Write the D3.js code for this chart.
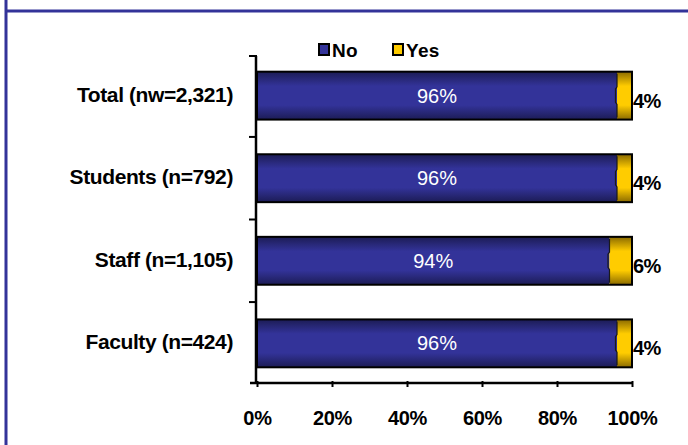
<!DOCTYPE html>
<html><head><meta charset="utf-8">
<script src="https://cdn.jsdelivr.net/npm/d3@7"></script>
<style>body{margin:0;background:#fff}svg{display:block}</style>
</head><body>
<svg id="c" width="688" height="445"></svg>
<script>
const categories = ["Total (nw=2,321)", "Students (n=792)", "Staff (n=1,105)", "Faculty (n=424)"];
const noValues = [96, 96, 94, 96];
const yesValues = [4, 4, 6, 4];
const seriesNames = ["No", "Yes"];
const xTicks = [0, 20, 40, 60, 80, 100];

const svg = d3.select("#c");
const font = "'Liberation Sans', Arial, sans-serif";

// frame lines
svg.append("line").attr("x1",6).attr("x2",6).attr("y1",0).attr("y2",445).attr("stroke","#333399").attr("stroke-width",3);
svg.append("line").attr("x1",6).attr("x2",688).attr("y1",11).attr("y2",11).attr("stroke","#333399").attr("stroke-width",3);

const x = d3.scaleLinear().domain([0,100]).range([257,632]);
const y = d3.scaleBand().domain(categories).range([56,383]).paddingInner(0.42).paddingOuter(0.19);

const defs = svg.append("defs");
function grad(id, edge, mid){
  const g = defs.append("linearGradient").attr("id",id).attr("x1",0).attr("x2",0).attr("y1",0).attr("y2",1);
  g.append("stop").attr("offset","0%").attr("stop-color",edge);
  g.append("stop").attr("offset","30%").attr("stop-color",mid);
  g.append("stop").attr("offset","70%").attr("stop-color",mid);
  g.append("stop").attr("offset","100%").attr("stop-color",edge);
}
grad("gNo","#1c1c55","#333399");
grad("gYes","#8a6a00","#ffcc00");

const data = categories.map((c,i)=>({c, no:noValues[i], yes:yesValues[i]}));

const g = svg.append("g");
g.selectAll("rect.no").data(data).join("rect")
  .attr("x",x(0)).attr("y",d=>y(d.c)).attr("width",d=>x(d.no)-x(0)).attr("height",y.bandwidth())
  .attr("fill","url(#gNo)");
g.selectAll("rect.yes").data(data).join("rect")
  .attr("x",d=>x(d.no)).attr("y",d=>y(d.c)).attr("width",d=>x(d.no+d.yes)-x(d.no)).attr("height",y.bandwidth())
  .attr("fill","url(#gYes)");
g.selectAll("path.sep").data(data).join("path")
  .attr("d",d=>{const x0=x(d.no), y0=y(d.c)+2, h=y.bandwidth()-4;
    return `M${x0},${y0}L${x0},${y0+h*0.3}L${x0-1.5},${y0+h*0.35}L${x0-1.5},${y0+h*0.65}L${x0},${y0+h*0.7}L${x0},${y0+h}`;})
  .attr("fill","none").attr("stroke","#1a1a1a").attr("stroke-width",1.2);
g.selectAll("rect.out").data(data).join("rect")
  .attr("x",x(0)).attr("y",d=>y(d.c)).attr("width",d=>x(d.no+d.yes)-x(0)).attr("height",y.bandwidth())
  .attr("fill","none").attr("stroke","#000").attr("stroke-width",2);

g.selectAll("text.nol").data(data).join("text")
  .attr("x",d=>(x(0)+x(d.no))/2).attr("y",d=>y(d.c)+y.bandwidth()/2+7)
  .attr("text-anchor","middle").attr("fill","#fff").attr("font-family",font).attr("font-size",20)
  .text(d=>d.no+"%");
g.selectAll("text.yesl").data(data).join("text")
  .attr("x",d=>x(d.no+d.yes)+1).attr("y",d=>y(d.c)+y.bandwidth()/2+12)
  .attr("fill","#000").attr("font-family",font).attr("font-weight","bold").attr("font-size",20).attr("letter-spacing","-0.5")
  .text(d=>d.yes+"%");

// y axis
svg.append("line").attr("x1",256).attr("x2",256).attr("y1",56).attr("y2",383).attr("stroke","#000").attr("stroke-width",2.5);
const bounds = [56].concat(categories.slice(0,3).map(c=>y(c)+y.bandwidth()+y.step()*0.21));
svg.selectAll("line.yt").data(bounds).join("line")
  .attr("x1",249).attr("x2",257).attr("y1",d=>d).attr("y2",d=>d).attr("stroke","#000").attr("stroke-width",2);

svg.selectAll("text.cat").data(categories).join("text")
  .attr("x",233).attr("y",c=>y(c)+y.bandwidth()/2+6)
  .attr("text-anchor","end").attr("font-family",font).attr("font-weight","bold").attr("font-size",21).attr("letter-spacing","-0.4")
  .text(c=>c);

// x axis
const xAxis = d3.axisBottom(x).tickValues(xTicks).tickSize(6).tickFormat(d=>d+"%");
const xa = svg.append("g").attr("transform","translate(0,383)").call(xAxis);
xa.select(".domain").attr("stroke","#000").attr("stroke-width",2.5).attr("d","M250,0H632");
xa.selectAll(".tick line").attr("y1",-2).attr("y2",4).attr("stroke","#000").attr("stroke-width",2);
xa.selectAll(".tick text").attr("y",42).attr("dy",null).attr("font-family",font).attr("font-weight","bold").attr("font-size",20).attr("letter-spacing","-0.3").attr("fill","#000");

// legend
const leg = svg.append("g");
const legX = [319, 393];
const legC = ["#333399","#ffcc00"];
seriesNames.forEach((s,i)=>{
  leg.append("rect").attr("x",legX[i]).attr("y",44).attr("width",10).attr("height",11).attr("fill",legC[i]).attr("stroke","#000").attr("stroke-width",2);
  leg.append("text").attr("x",legX[i]+13).attr("y",57).attr("font-family",font).attr("font-weight","bold").attr("font-size",19).attr("letter-spacing","0.3").text(s);
});
</script>
</body></html>
